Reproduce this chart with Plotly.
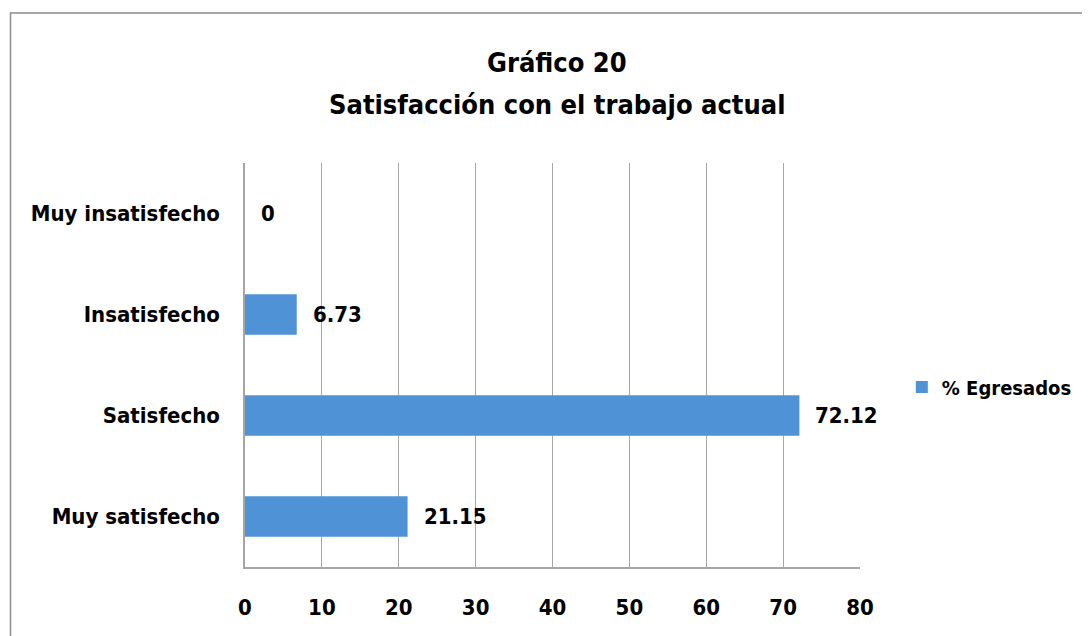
import plotly.graph_objects as go

# Datos del gráfico (de abajo hacia arriba)
categorias = ['Muy satisfecho', 'Satisfecho', 'Insatisfecho', 'Muy insatisfecho']
egresados = [21.15, 72.12, 6.73, 0]
etiquetas = ['21.15', '72.12', '6.73', '0']
ticks_x = [0, 10, 20, 30, 40, 50, 60, 70, 80]

fuente = 'Liberation Sans Narrow, DejaVu Sans Condensed, Arial Narrow, sans-serif'

fig = go.Figure()

fig.add_trace(go.Bar(
    x=egresados,
    y=categorias,
    orientation='h',
    name='<b>% Egresados</b>',
    marker=dict(color='#4F93D6', line=dict(color='#7FB2E5', width=0)),
))

# Etiquetas de datos a la derecha de cada barra
for v, c, t in zip(egresados, categorias, etiquetas):
    fig.add_annotation(
        x=v, y=c, text='<b>' + t + '</b>', showarrow=False,
        xanchor='left', xshift=14,
        font=dict(family=fuente, size=22, color='black'),
    )

# Título en dos líneas
fig.add_annotation(
    x=0.507, y=1.25, xref='paper', yref='paper',
    text='<b>Gráfico 20</b>', showarrow=False, yanchor='middle',
    font=dict(family=fuente, size=27, color='black'),
)
fig.add_annotation(
    x=0.507, y=1.1436, xref='paper', yref='paper',
    text='<b>Satisfacción con el trabajo actual</b>', showarrow=False, yanchor='middle',
    font=dict(family=fuente, size=27, color='black'),
)

# Marco exterior del gráfico
fig.add_shape(
    type='rect', xref='paper', yref='paper',
    x0=-0.3813, x1=1.6, y0=-0.5, y1=1.3713,
    line=dict(color='#8C8C8C', width=1.5), fillcolor='rgba(0,0,0,0)',
    layer='below',
)

# la página deja 8 px de margen en el body, por eso el tamaño reducido
fig.update_layout(
    width=1082, height=628,
    margin=dict(l=237, r=230, t=155, b=69, autoexpand=False),
    plot_bgcolor='white',
    paper_bgcolor='white',
    font=dict(family=fuente, color='black'),
    bargap=0.6,
    showlegend=True,
    legend=dict(
        x=1.068, y=0.4455, xanchor='left', yanchor='middle',
        font=dict(family=fuente, size=20, color='black'),
        itemwidth=30,
    ),
)

fig.update_xaxes(
    range=[0, 80], tickvals=ticks_x,
    ticktext=['<b>%d</b>' % t for t in ticks_x],
    tickfont=dict(family=fuente, size=22, color='black'),
    showgrid=True, gridcolor='#A6A6A6', gridwidth=1,
    showline=True, linecolor='#A6A6A6', linewidth=1.5,
    zeroline=False, ticks='', ticklabelstandoff=20,
    mirror=False,
)
fig.update_yaxes(
    tickvals=categorias,
    ticktext=['<b>' + c + '</b>' for c in categorias],
    tickfont=dict(family=fuente, size=22, color='black'),
    showgrid=False,
    showline=True, linecolor='#A6A6A6', linewidth=1.5,
    ticks='', ticklabelstandoff=19,
)

fig.write_html("out.html")
